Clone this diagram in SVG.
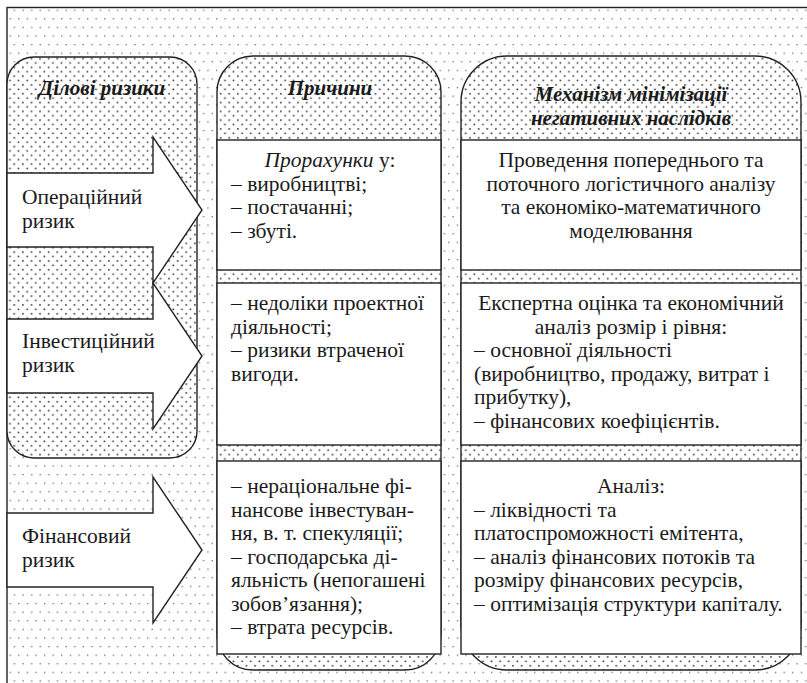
<svg xmlns="http://www.w3.org/2000/svg" width="807" height="683" viewBox="0 0 807 683">
<defs>
<pattern id="sparse" width="8.6" height="17.2" patternUnits="userSpaceOnUse">
<rect width="8.6" height="17.2" fill="#fff"/>
<rect x="1" y="1" width="1.2" height="1.2" fill="#555"/>
<rect x="5.3" y="9.6" width="1.2" height="1.2" fill="#555"/>
</pattern>
<pattern id="dense" width="8.6" height="8.8" patternUnits="userSpaceOnUse">
<rect width="8.6" height="8.8" fill="#fff"/>
<rect x="0.6" y="0.6" width="1.5" height="1.5" fill="#222"/>
<rect x="4.9" y="5" width="1.5" height="1.5" fill="#222"/>
</pattern>
<style>
.ln{stroke:#222;stroke-width:1.4}
.dn{fill:url(#dense);stroke:#222;stroke-width:1.4}
.wb{fill:#fff;stroke:#222;stroke-width:1.4}
.ar{fill:#fff;stroke:#222;stroke-width:1.4;stroke-linejoin:miter}
.t{font-family:"Liberation Serif",serif;font-size:21.5px;fill:#1a1a1a}
.h{font-family:"Liberation Serif",serif;font-size:21px;font-weight:bold;font-style:italic;text-anchor:middle;fill:#1a1a1a}
.c{text-anchor:middle}
.i{font-style:italic}
</style>
</defs>
<rect x="0" y="0" width="807" height="683" fill="#fff"/>
<rect x="7" y="7.5" width="820" height="700" class="ln" fill="url(#sparse)"/>

<g id="risks-panel">
<path class="dn" d="M7,84 A27,27 0 0 1 34,57 L170,57 A27,27 0 0 1 197,84 L197,431 A27,27 0 0 1 170,458 L34,458 A27,27 0 0 1 7,431 Z"/>
<text class="h" x="102" y="95">Ділові ризики</text>
</g>

<g id="causes-panel">
<path class="dn" d="M217,92 A36,36 0 0 1 253,56 L405,56 A36,36 0 0 1 441,92 L441,634 A36,36 0 0 1 405,670 L253,670 A36,36 0 0 1 217,634 Z"/>
<text class="h" x="330" y="95">Причини</text>
</g>

<g id="mechanism-panel">
<path class="dn" d="M461,102 A46,46 0 0 1 507,56 L755,56 A46,46 0 0 1 801,102 L801,624 A46,46 0 0 1 755,670 L507,670 A46,46 0 0 1 461,624 Z"/>
<text class="h" x="631" y="101">Механізм мінімізації</text>
<text class="h" x="631" y="125">негативних наслідків</text>
</g>

<g id="connectors">
<g id="risk-operational">
<polygon class="ar" points="7,173 153,173 153,137 202,210 153,283 153,247 7,247"/>
<text class="t" x="22" y="204">Операційний</text>
<text class="t" x="22" y="227.5">ризик</text>
</g>
<g id="risk-investment">
<polygon class="ar" points="7,319 153,319 153,283 202,356 153,429 153,393 7,393"/>
<text class="t" x="22" y="348">Інвестиційний</text>
<text class="t" x="22" y="371.5">ризик</text>
</g>
<g id="risk-financial">
<polygon class="ar" points="7,513 153,513 153,477 202,550 153,623 153,587 7,587"/>
<text class="t" x="22" y="543">Фінансовий</text>
<text class="t" x="22" y="566.5">ризик</text>
</g>
</g>

<g id="cause-1">
<rect class="wb" x="217" y="140" width="224" height="130"/>
<text class="t c" x="330" y="167"><tspan class="i">Прорахунки</tspan> у:</text>
<text class="t" x="231" y="190.5">– виробництві;</text>
<text class="t" x="231" y="214">– постачанні;</text>
<text class="t" x="231" y="237.5">– збуті.</text>
</g>
<g id="cause-2">
<rect class="wb" x="217" y="283" width="224" height="162"/>
<text class="t" x="231" y="310">– недоліки проектної</text>
<text class="t" x="231" y="333.5">діяльності;</text>
<text class="t" x="231" y="357">– ризики втраченої</text>
<text class="t" x="231" y="380.5">вигоди.</text>
</g>
<g id="cause-3">
<rect class="wb" x="217" y="461" width="224" height="193"/>
<text class="t" x="231" y="493">– нераціональне фі-</text>
<text class="t" x="231" y="516.5">нансове інвестуван-</text>
<text class="t" x="231" y="540">ня, в. т. спекуляції;</text>
<text class="t" x="231" y="563.5">– господарська ді-</text>
<text class="t" x="231" y="587">яльність (непогашені</text>
<text class="t" x="231" y="610.5">зобов’язання);</text>
<text class="t" x="231" y="634">– втрата ресурсів.</text>
</g>

<g id="mechanism-1">
<rect class="wb" x="461" y="140" width="340" height="130"/>
<text class="t c" x="631" y="167">Проведення попереднього та</text>
<text class="t c" x="631" y="190.5">поточного логістичного аналізу</text>
<text class="t c" x="631" y="214">та економіко-математичного</text>
<text class="t c" x="631" y="237.5">моделювання</text>
</g>
<g id="mechanism-2">
<rect class="wb" x="461" y="283" width="340" height="162"/>
<text class="t c" x="631" y="310">Експертна оцінка та економічний</text>
<text class="t c" x="631" y="333.5">аналіз розмір і рівня:</text>
<text class="t" x="474" y="357">– основної діяльності</text>
<text class="t" x="474" y="380.5">(виробництво, продажу, витрат і</text>
<text class="t" x="474" y="404">прибутку),</text>
<text class="t" x="474" y="427.5">– фінансових коефіцієнтів.</text>
</g>
<g id="mechanism-3">
<rect class="wb" x="461" y="461" width="340" height="193"/>
<text class="t c" x="631" y="493">Аналіз:</text>
<text class="t" x="474" y="516.5">– ліквідності та</text>
<text class="t" x="474" y="540">платоспроможності емітента,</text>
<text class="t" x="474" y="563.5">– аналіз фінансових потоків та</text>
<text class="t" x="474" y="587">розміру фінансових ресурсів,</text>
<text class="t" x="474" y="610.5">– оптимізація структури капіталу.</text>
</g>
</svg>
